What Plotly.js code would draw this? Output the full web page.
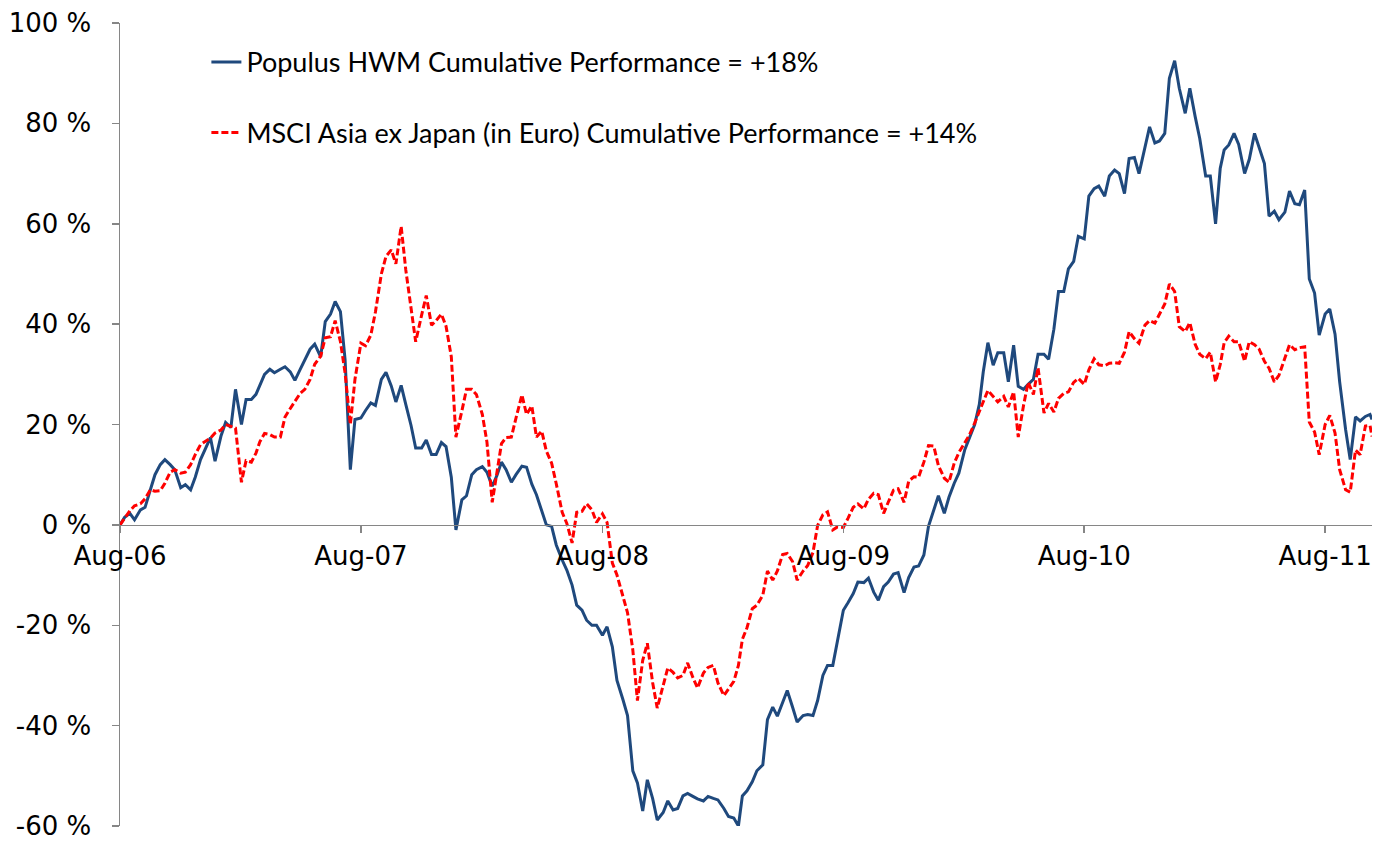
<!DOCTYPE html>
<html>
<head>
<meta charset="utf-8">
<script src="https://cdn.plot.ly/plotly-3.0.1.min.js"></script>
<style>
html,body{margin:0;padding:0;background:#fff;}
#chart{width:1373px;height:841px;}
</style>
</head>
<body>
<div id="chart"></div>
<script>
// Observation dates (roughly weekly: 1st, 8th, 16th, 23rd of each month)
const dates = [
'2006-08-01','2006-08-08','2006-08-16','2006-08-23',
'2006-09-01','2006-09-08','2006-09-16','2006-09-23',
'2006-10-01','2006-10-08','2006-10-16','2006-10-23',
'2006-11-01','2006-11-08','2006-11-16','2006-11-23',
'2006-12-01','2006-12-08','2006-12-16','2006-12-23',
'2007-01-01','2007-01-08','2007-01-16','2007-01-23',
'2007-02-01','2007-02-08','2007-02-16','2007-02-23',
'2007-03-01','2007-03-08','2007-03-16','2007-03-23',
'2007-04-01','2007-04-08','2007-04-16','2007-04-23',
'2007-05-01','2007-05-08','2007-05-16','2007-05-23',
'2007-06-01','2007-06-08','2007-06-16','2007-06-23',
'2007-07-01','2007-07-08','2007-07-16','2007-07-23',
'2007-08-01','2007-08-08','2007-08-16','2007-08-23',
'2007-09-01','2007-09-08','2007-09-16','2007-09-23',
'2007-10-01','2007-10-08','2007-10-16','2007-10-23',
'2007-11-01','2007-11-08','2007-11-16','2007-11-23',
'2007-12-01','2007-12-08','2007-12-16','2007-12-23',
'2008-01-01','2008-01-08','2008-01-16','2008-01-23',
'2008-02-01','2008-02-08','2008-02-16','2008-02-23',
'2008-03-01','2008-03-08','2008-03-16','2008-03-23',
'2008-04-01','2008-04-08','2008-04-16','2008-04-23',
'2008-05-01','2008-05-08','2008-05-16','2008-05-23',
'2008-06-01','2008-06-08','2008-06-16','2008-06-23',
'2008-07-01','2008-07-08','2008-07-16','2008-07-23',
'2008-08-01','2008-08-08','2008-08-16','2008-08-23',
'2008-09-01','2008-09-08','2008-09-16','2008-09-23',
'2008-10-01','2008-10-08','2008-10-16','2008-10-23',
'2008-11-01','2008-11-08','2008-11-16','2008-11-23',
'2008-12-01','2008-12-08','2008-12-16','2008-12-23',
'2009-01-01','2009-01-08','2009-01-16','2009-01-23',
'2009-02-01','2009-02-08','2009-02-16','2009-02-23',
'2009-03-01','2009-03-08','2009-03-16','2009-03-23',
'2009-04-01','2009-04-08','2009-04-16','2009-04-23',
'2009-05-01','2009-05-08','2009-05-16','2009-05-23',
'2009-06-01','2009-06-08','2009-06-16','2009-06-23',
'2009-07-01','2009-07-08','2009-07-16','2009-07-23',
'2009-08-01','2009-08-08','2009-08-16','2009-08-23',
'2009-09-01','2009-09-08','2009-09-16','2009-09-23',
'2009-10-01','2009-10-08','2009-10-16','2009-10-23',
'2009-11-01','2009-11-08','2009-11-16','2009-11-23',
'2009-12-01','2009-12-08','2009-12-16','2009-12-23',
'2010-01-01','2010-01-08','2010-01-16','2010-01-23',
'2010-02-01','2010-02-08','2010-02-16','2010-02-23',
'2010-03-01','2010-03-08','2010-03-16','2010-03-23',
'2010-04-01','2010-04-08','2010-04-16','2010-04-23',
'2010-05-01','2010-05-08','2010-05-16','2010-05-23',
'2010-06-01','2010-06-08','2010-06-16','2010-06-23',
'2010-07-01','2010-07-08','2010-07-16','2010-07-23',
'2010-08-01','2010-08-08','2010-08-16','2010-08-23',
'2010-09-01','2010-09-08','2010-09-16','2010-09-23',
'2010-10-01','2010-10-08','2010-10-16','2010-10-23',
'2010-11-01','2010-11-08','2010-11-16','2010-11-23',
'2010-12-01','2010-12-08','2010-12-16','2010-12-23',
'2011-01-01','2011-01-08','2011-01-16','2011-01-23',
'2011-02-01','2011-02-08','2011-02-16','2011-02-23',
'2011-03-01','2011-03-08','2011-03-16','2011-03-23',
'2011-04-01','2011-04-08','2011-04-16','2011-04-23',
'2011-05-01','2011-05-08','2011-05-16','2011-05-23',
'2011-06-01','2011-06-08','2011-06-16','2011-06-23',
'2011-07-01','2011-07-08','2011-07-16','2011-07-23',
'2011-08-01','2011-08-08','2011-08-16','2011-08-23',
'2011-09-01','2011-09-08','2011-09-16','2011-09-23',
'2011-10-01','2011-10-08','2011-10-11'
];

// Populus HWM cumulative performance (%)
const populus = [
0, 1.5, 2.3, 1.0,
3, 3.5, 7, 10,
12, 13, 12, 11,
7.4, 8, 7, 9.5,
13, 15, 17.4, 12.7,
17.7, 20.4, 19.4, 27,
20, 25, 25, 26,
28, 30, 31, 30.3,
31, 31.5, 30.5, 28.8,
31, 33, 35, 36,
33.5, 40.5, 42, 44.5,
42.5, 33, 11, 21,
21.3, 22.8, 24.3, 23.8,
29, 30.4, 27.7, 24.5,
27.8, 24, 19.8, 15.3,
15.3, 16.9, 14, 14,
16.4, 15.6, 9.5, -1,
5, 5.8, 10, 11,
11.6, 10.5, 7.7, 9.8,
12.5, 11, 8.5, 10,
11.7, 11.5, 8.1, 6,
2.6, 0, -0.3, -4,
-7, -9, -12, -16,
-17, -19, -20, -20,
-22, -20.3, -24.3, -31,
-34.8, -38, -49, -51.4,
-57, -50.8, -54.5, -58.8,
-57.3, -55, -56.8, -56.5,
-54, -53.5, -54.1, -54.6,
-55, -54.1, -54.5, -54.8,
-56.5, -58.1, -58.4, -60,
-54, -53, -51.2, -49,
-47.8, -38.8, -36.3, -38.1,
-35.4, -33, -36.3, -39.3,
-38, -37.8, -38, -35,
-30, -28, -28, -23,
-17, -15.5, -13.7, -11.4,
-11.5, -10.6, -13.4, -15,
-12.3, -11.4, -9.8, -9.5,
-13.5, -10.5, -8.4, -8.2,
-6, -0.3, 3, 5.8,
2.3, 5.5, 8.3, 10.3,
15, 17.5, 20, 24,
30.5, 36.3, 31.8, 34.3,
34.3, 28.5, 35.8, 27.6,
27, 28, 29, 34,
34, 33, 39, 46.5,
46.5, 51, 52.5, 57.5,
57, 65.5, 67, 67.5,
65.5, 69.5, 70.7, 70,
66, 73, 73.2, 70,
75.5, 79.3, 76.1, 76.5,
78, 89, 92.5, 87,
82, 87, 81.4, 77,
69.5, 69.5, 60, 71,
74.7, 75.7, 78, 75.8,
70, 72.8, 78, 75,
72, 61.5, 62.5, 60.8,
62.3, 66.5, 64, 63.8,
66.7, 49, 46.2, 37.8,
42, 43, 38, 28.5,
19, 13, 21.5, 20.7,
21.6, 22, 21
];

// MSCI Asia ex Japan (in Euro) cumulative performance (%)
const msci = [
0, 1.3, 2.8, 3.8,
4.2, 5.2, 7, 6.7,
6.8, 8.3, 10.5, 11,
10.3, 10.5, 12, 14,
16, 16.6, 17.3, 18.3,
18.9, 20, 19.7, 19.3,
8.5, 12.8, 12.5, 14.3,
16.6, 18.2, 18, 17.5,
17.5, 21.5, 23.2, 24.5,
26.2, 27, 29, 32,
33.6, 37.3, 37.5, 40.7,
36.5, 30.3, 20, 29,
36.2, 35.7, 37.8, 42.4,
50, 53.5, 54.8, 52,
59.5, 50.8, 42.6, 36.5,
41.8, 45.7, 39.8, 40.7,
42, 39.6, 33.5, 17.5,
22.7, 27, 27, 26,
22, 16.5, 4.5, 10.7,
16.2, 17.4, 17.5, 21.3,
25.9, 22, 23.7, 17.5,
18.7, 14.7, 12.3, 8.2,
2.5, 0.3, -3.6, 2.5,
2.7, 4.2, 3, 0.5,
2.2, 0.5, -7.6, -10,
-14.4, -17.5, -24.9, -35,
-27, -23.6, -31.4, -36.5,
-32, -28.5, -29.4, -30.5,
-30, -27.5, -30.4, -32.5,
-29.5, -28.4, -28, -31.5,
-34, -32.7, -31.2, -28,
-22.8, -20.5, -16.7, -16,
-14, -9.2, -11, -9.2,
-5.9, -5.7, -7.3, -11,
-9.2, -8.1, -5.5, -0.1,
2, 2.6, -1, -0.4,
-0.5, 1.3, 3.5, 4.2,
3.2, 5.1, 6.3, 6,
2.3, 4.5, 6.9, 7.2,
4.5, 8.7, 9.6, 9.5,
12.5, 15.8, 15.7, 11.8,
9.3, 8.5, 12.3, 14.4,
16.3, 17.9, 20.3, 22.5,
24.4, 26.8, 25.6, 24.5,
25.6, 23.5, 26.5, 17.5,
23.8, 28.4, 26, 31.3,
22.3, 24.2, 22.5, 25.2,
26.2, 26.5, 28.4, 29.2,
28, 30.9, 33.1, 31.9,
31.7, 32.2, 32.3, 32.2,
34.4, 38.5, 37.1, 36.2,
39.8, 40.7, 40.2, 41.9,
44, 48, 46.5, 39.5,
38.5, 40.3, 36, 34,
33.1, 34.4, 28.5, 31.9,
36.3, 37.6, 36.5, 36.5,
32.6, 36.5, 35.9, 35,
32.6, 31.2, 28.5, 29.8,
33.2, 35.9, 34.9, 35.3,
35.5, 20.5, 18.5, 14,
20, 21.8, 18.3, 11,
7, 6.5, 14.9, 14,
19.7, 19.8, 17.6
];

const seriesNames = [
'Populus HWM Cumulative Performance = +18%',
'MSCI Asia ex Japan (in Euro) Cumulative Performance = +14%'
];
const yTickValues = [-60, -40, -20, 0, 20, 40, 60, 80, 100];
const yTickLabels = ['-60 %', '-40 %', '-20 %', '0 %', '20 %', '40 %', '60 %', '80 %', '100 %'];
const xRange = ['2006-08-01', '2011-10-11'];
const yRange = [-60, 100];

const traces = [
  {
    x: dates, y: populus, type: 'scatter', mode: 'lines', name: seriesNames[0],
    line: {color: '#1F497D', width: 3}, legend: 'legend'
  },
  {
    x: dates, y: msci, type: 'scatter', mode: 'lines', name: seriesNames[1],
    line: {color: '#FF0000', width: 3, dash: '7px,3px'}, legend: 'legend2'
  }
];

const axisFont = {family: 'DejaVu Sans, Verdana, sans-serif', size: 26, color: '#000'};
const legendFont = {family: 'Lato, Carlito, Calibri, sans-serif', size: 27, color: '#000'};

const layout = {
  width: 1373, height: 841,
  margin: {l: 120, r: 1, t: 23, b: 15, pad: 0},
  paper_bgcolor: '#fff', plot_bgcolor: '#fff',
  showlegend: true,
  xaxis: {
    type: 'date', range: xRange,
    anchor: 'free', position: (0 - yRange[0]) / (yRange[1] - yRange[0]),
    tick0: '2006-08-01', dtick: 'M12', tickformat: '%b-%y',
    ticks: 'outside', ticklen: 7, tickwidth: 1.5, tickcolor: '#868686',
    showline: true, linecolor: '#868686', linewidth: 1.5,
    showgrid: false, zeroline: false,
    ticklabeloverflow: 'allow',
    tickfont: axisFont
  },
  yaxis: {
    range: yRange, tickmode: 'array', tickvals: yTickValues, ticktext: yTickLabels,
    ticks: 'outside', ticklen: 7, tickwidth: 1.5, tickcolor: '#868686',
    showline: true, linecolor: '#868686', linewidth: 1.5,
    showgrid: false, zeroline: false,
    ticklabelstandoff: 15, ticklabeloverflow: 'allow',
    tickfont: axisFont
  },
  legend: {
    x: 0.069, y: 0.951, xanchor: 'left', yanchor: 'middle',
    bgcolor: 'rgba(0,0,0,0)', borderwidth: 0, font: legendFont
  },
  legend2: {
    x: 0.069, y: 0.863, xanchor: 'left', yanchor: 'middle',
    bgcolor: 'rgba(0,0,0,0)', borderwidth: 0, font: legendFont
  }
};

Plotly.newPlot('chart', traces, layout, {displayModeBar: false, staticPlot: true});
</script>
</body>
</html>
